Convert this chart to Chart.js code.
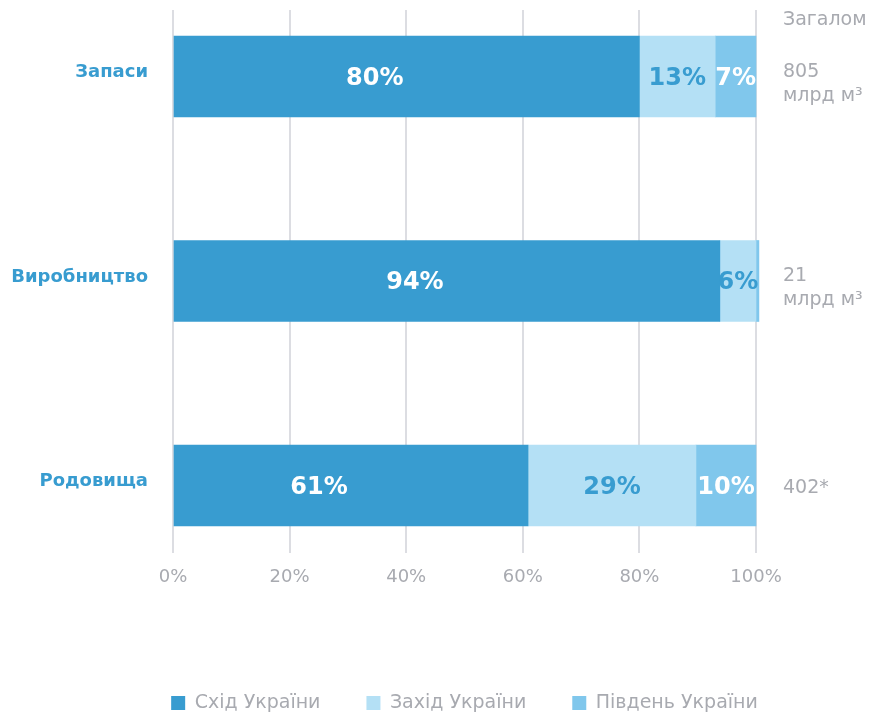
<!DOCTYPE html>
<html lang="uk">
<head>
<meta charset="utf-8">
<title>Газ: Схід, Захід, Південь</title>
<script src="https://cdn.jsdelivr.net/npm/chart.js@4.4.1/dist/chart.umd.min.js"></script>
<style>
  html, body { margin: 0; padding: 0; background: #fff; }
  #wrap { width: 871px; height: 714px; }
</style>
</head>
<body>
<div id="wrap"><canvas id="gasChart" width="871" height="714"></canvas></div>
<script>
// ---- дані ----
const categories = ["Запаси", "Виробництво", "Родовища"];
const seriesNames = ["Схід України", "Захід України", "Південь України"];
const eastVals = [80, 93.8, 60.9];
const westVals = [13, 6.2, 28.8];
const southVals = [7, 0.5, 10.3];
const eastLbl = ["80%", "94%", "61%"];
const westLbl = ["13%", "6%", "29%"];
const southLbl = ["7%", "", "10%"];
const xTicks = [0, 20, 40, 60, 80, 100];
const totalHead = "Загалом";
const totalVal = ["805", "21", "402*"];
const totalUnit = ["млрд м³", "млрд м³", ""];

const C_EAST = "#389cd0", C_WEST = "#b4e0f5", C_SOUTH = "#80c7ec";
const GREY = "#a8aab0";
const FONT = "'DejaVu Sans', sans-serif";

const pts = vals => vals.map((v, i) => ({ x: v, y: i }));

// підписи всередині смуг
const barLabels = {
  id: "barLabels",
  afterDatasetsDraw(chart) {
    const { ctx } = chart;
    const lbls = [eastLbl, westLbl, southLbl];
    const colors = ["#fff", C_EAST, "#fff"];
    const shift = [-32, 0, 0];
    ctx.save();
    ctx.font = "bold 24px " + FONT;
    ctx.textAlign = "center";
    ctx.textBaseline = "middle";
    chart.data.datasets.forEach((ds, di) => {
      chart.getDatasetMeta(di).data.forEach((bar, i) => {
        const t = lbls[di][i];
        if (!t) return;
        ctx.fillStyle = colors[di];
        ctx.fillText(t, (bar.x + bar.base) / 2 + shift[di], bar.y + 2);
      });
    });
    ctx.restore();
  }
};

// колонка "Загалом" праворуч
const sideTotals = {
  id: "sideTotals",
  afterDraw(chart) {
    const { ctx, chartArea, scales } = chart;
    const x = chartArea.right + 27;
    ctx.save();
    ctx.font = "19px " + FONT;
    ctx.fillStyle = GREY;
    ctx.textAlign = "left";
    ctx.textBaseline = "middle";
    ctx.fillText(totalHead, x, chartArea.top + 10);
    categories.forEach((c, i) => {
      const yc = scales.y.getPixelForValue(i);
      if (totalUnit[i]) {
        ctx.fillText(totalVal[i], x, yc - 4.5);
        ctx.fillText(totalUnit[i], x, yc + 19.5);
      } else {
        ctx.fillText(totalVal[i], x, yc + 2.5);
      }
    });
    ctx.restore();
  }
};

// легенда трохи правіше від центру полотна, як в оригіналі
const LEG_SHIFT = 29;
const legendShift = {
  id: "legendShift",
  afterLayout(chart) {
    const lg = chart.legend;
    if (!lg) return;
    lg.left += LEG_SHIFT;
    lg.right += LEG_SHIFT;
  }
};

const LEG_PAD = 46;
const LEG_H = LEG_PAD + 20.5;

new Chart(document.getElementById("gasChart"), {
  type: "bar",
  data: {
    datasets: [
      { label: seriesNames[0], data: pts(eastVals), backgroundColor: C_EAST, stack: "s" },
      { label: seriesNames[1], data: pts(westVals), backgroundColor: C_WEST, stack: "s" },
      { label: seriesNames[2], data: pts(southVals), backgroundColor: C_SOUTH, stack: "s" },
    ]
  },
  options: {
    responsive: false,
    animation: false,
    indexAxis: "y",
    layout: { padding: { top: 10, right: 0, left: 0, bottom: 0 } },
    datasets: { bar: { barThickness: 81, clip: false, borderWidth: 0 } },
    scales: {
      x: {
        type: "linear", stacked: true, min: 0, max: 100,
        afterBuildTicks: s => { s.ticks = xTicks.map(v => ({ value: v })); },
        afterFit: s => { s.height = 714 - LEG_H - 553; },
        grid: { color: "#dcdde2", lineWidth: 2, drawTicks: false },
        border: { display: false },
        ticks: { padding: 14, color: GREY, font: { family: FONT, size: 18 }, callback: v => v + "%" }
      },
      y: {
        type: "linear", reverse: true, min: -0.325, max: 2.33, offset: false,
        afterBuildTicks: s => { s.ticks = categories.map((c, i) => ({ value: i })); },
        afterFit: s => { s.width = 173; s.paddingTop = 0; s.paddingBottom = 0; },
        grid: { display: false, drawTicks: false, offset: false },
        border: { display: false },
        ticks: {
          padding: 25, labelOffset: -4, color: "#389cd0",
          font: { family: FONT, size: 18, weight: "bold" },
          callback: v => categories[v]
        }
      },
      // порожня права вісь лише резервує місце під колонку "Загалом"
      side: {
        type: "linear", axis: "y", position: "right",
        afterFit: s => { s.width = 115; s.paddingTop = 0; s.paddingBottom = 0; },
        grid: { display: false, drawTicks: false },
        border: { display: false },
        ticks: { display: false }
      }
    },
    plugins: {
      legend: {
        position: "bottom", align: "center",
        maxHeight: LEG_H,
        labels: { boxWidth: 14, boxHeight: 14, padding: LEG_PAD, color: GREY, font: { family: FONT, size: 19 } }
      },
      tooltip: { enabled: false }
    }
  },
  plugins: [barLabels, sideTotals, legendShift]
});
</script>
</body>
</html>
